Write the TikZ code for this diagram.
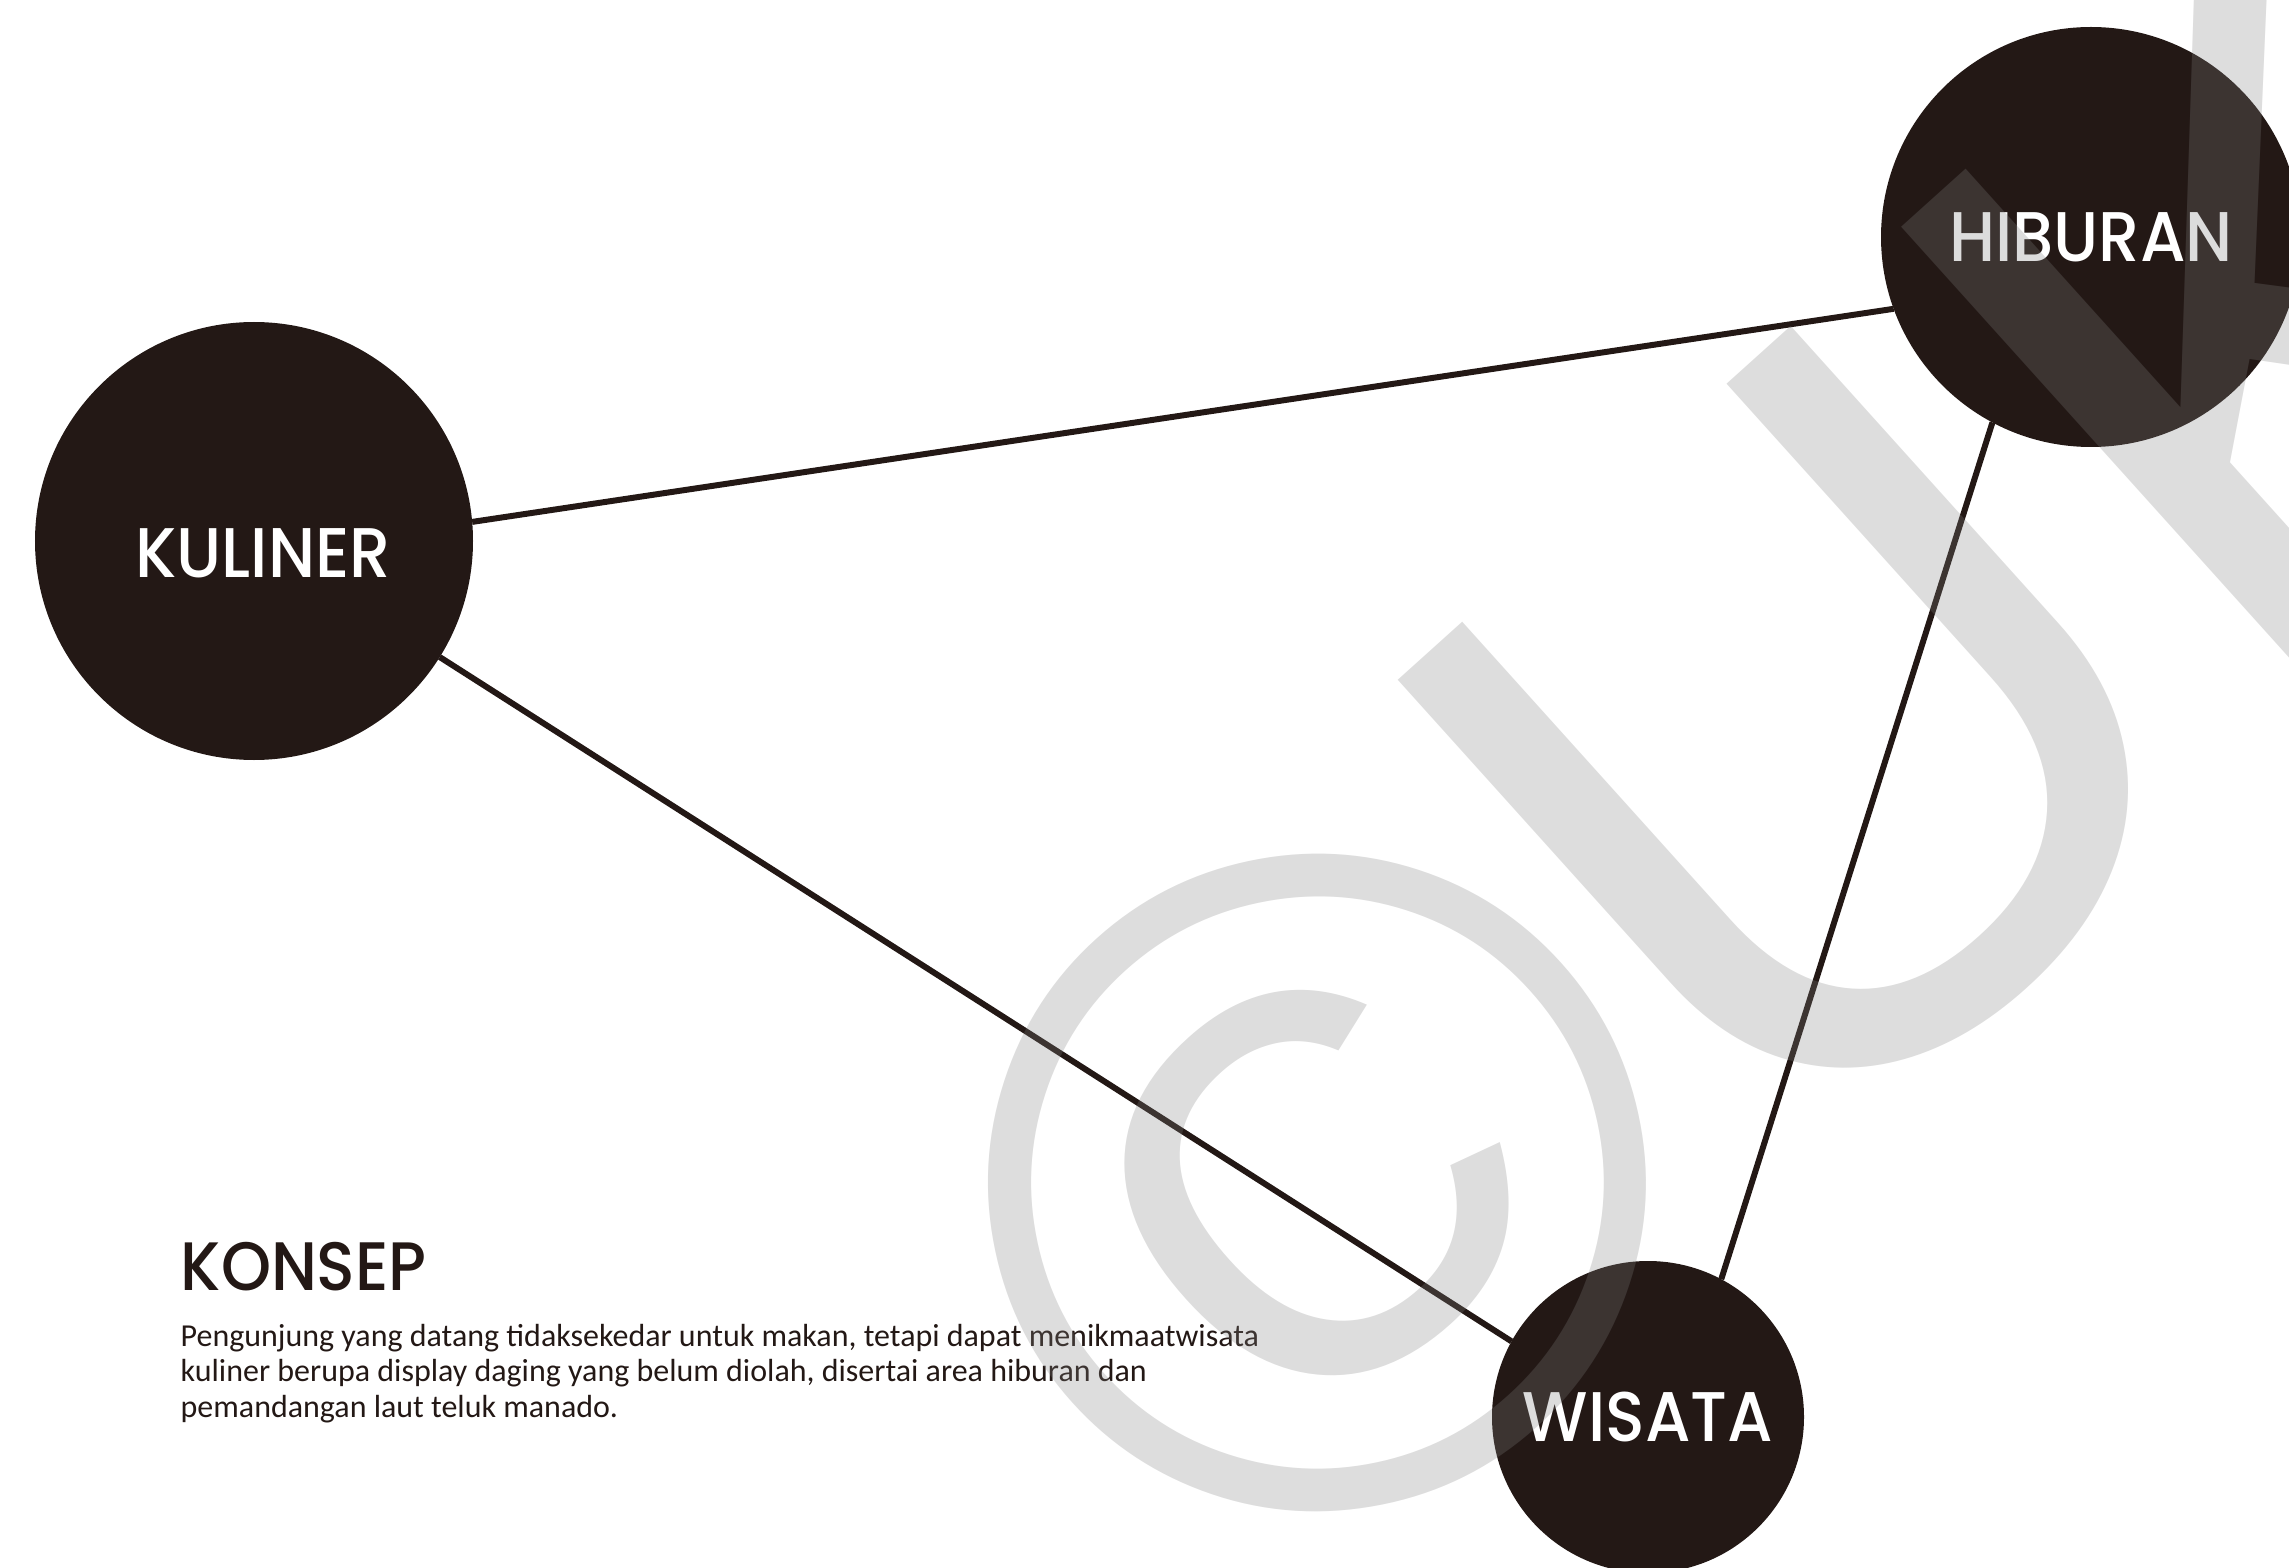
\documentclass[tikz,border=0pt]{standalone}
\usepackage{fontspec}
\setmainfont{Carlito}
\newfontfamily\futura{Poppins Medium}[FakeStretch=0.93]
\newfontfamily\wmfont{Liberation Sans}
\usepackage{xcolor}
\definecolor{tinta}{HTML}{231815}
\usetikzlibrary{positioning}

\begin{document}
\begin{tikzpicture}[
    bulat/.style={circle, fill=tinta, inner sep=0pt, outer sep=0pt},
    teks/.style={inner sep=0pt, text=white, font=\futura\fontsize{20}{20}\selectfont},
    garis/.style={draw=tinta, line width=1.7pt}]
    \useasboundingbox (0,0) rectangle (22.89,-15.68);

    % Lingkaran
    \node[bulat, minimum size=4.38cm,
        label={[teks, xshift=0.09cm, yshift=-0.12cm]center:KULINER}] (kuliner) at (2.54,-5.41) {};
    \node[bulat, minimum size=4.20cm, label={[teks]center:HIBURAN}] (hiburan) at (20.91,-2.37) {};
    \node[bulat, minimum size=3.12cm, label={[teks]center:WISATA}] (wisata) at (16.48,-14.17) {};

    % Garis penghubung
    \draw[garis] (kuliner.5.5) -- (hiburan.200.2);
    \draw[garis] (kuliner.-32.9) -- (wisata.151.8);
    \draw[garis] (hiburan.242.6) -- (wisata.62.8);

    % Keterangan konsep
    \node[anchor=base west, inner sep=0pt, text=tinta,
        font=\futura\fontsize{19.5}{19.5}\selectfont] (konsep) at (1.80,-12.90) {KONSEP};
    \node[below right=3.2mm and 0mm of konsep.south west, inner sep=0pt, align=left,
        text=tinta, font=\fontsize{9.1}{10.2}\selectfont] (ket)
        {Pengunjung yang datang tidaksekedar untuk makan, tetapi dapat menikmaatwisata\\
         kuliner berupa display daging yang belum diolah, disertai area hiburan dan\\
         pemandangan laut teluk manado.};

    % Tanda air
    \node[anchor=base west, inner sep=0pt, rotate=42, text=gray, opacity=0.27,
        font=\wmfont\fontsize{265}{265}\selectfont] (tanda) at (12.77,-16.52) {©\kern-0.02em UK};
\end{tikzpicture}
\end{document}
